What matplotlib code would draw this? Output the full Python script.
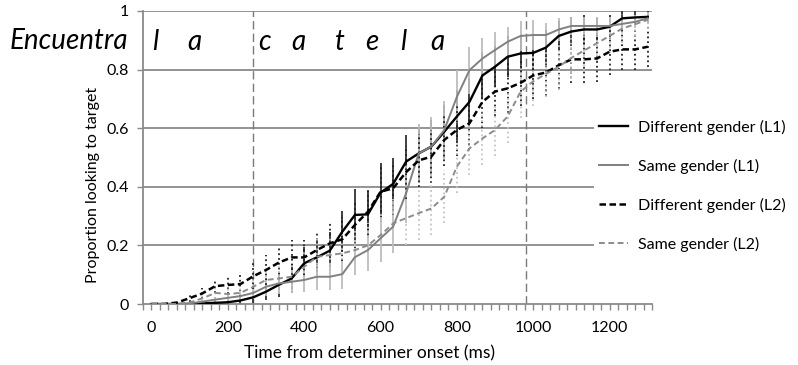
import matplotlib
matplotlib.use("Agg")
import matplotlib.pyplot as plt
from matplotlib.lines import Line2D
from matplotlib.ticker import MultipleLocator, FixedLocator

plt.rcParams['font.family'] = ['Lato', 'DejaVu Sans']

# time from determiner onset (ms), one sample every ~33 ms
times = [0, 33, 67, 100, 133, 167, 200, 233, 267, 300,
         333, 367, 400, 433, 467, 500, 533, 567, 600, 633,
         667, 700, 733, 767, 800, 833, 867, 900, 933, 967,
         1000, 1033, 1067, 1100, 1133, 1167, 1200, 1233, 1267, 1300]

# proportion looking to target
diff_l1 = [0, 0, 0, 0, 0.002, 0.004, 0.006, 0.012, 0.023, 0.042,
           0.065, 0.087, 0.139, 0.159, 0.182, 0.247, 0.304, 0.306, 0.38, 0.41,
           0.486, 0.514, 0.537, 0.588, 0.64, 0.69, 0.78, 0.81, 0.844, 0.855,
           0.857, 0.875, 0.915, 0.93, 0.937, 0.937, 0.946, 0.975, 0.978, 0.98]
same_l1 = [0, 0, 0, 0.002, 0.008, 0.015, 0.021, 0.027, 0.038, 0.059,
           0.07, 0.076, 0.082, 0.093, 0.093, 0.102, 0.16, 0.184, 0.224, 0.264,
           0.378, 0.514, 0.537, 0.594, 0.707, 0.798, 0.838, 0.867, 0.895, 0.915,
           0.918, 0.918, 0.937, 0.949, 0.949, 0.949, 0.949, 0.956, 0.963, 0.975]
diff_l2 = [0, 0, 0.005, 0.02, 0.036, 0.061, 0.065, 0.068, 0.095, 0.116,
           0.141, 0.159, 0.159, 0.184, 0.207, 0.221, 0.27, 0.315, 0.383, 0.395,
           0.45, 0.49, 0.503, 0.56, 0.594, 0.617, 0.69, 0.725, 0.736, 0.755,
           0.78, 0.79, 0.815, 0.835, 0.835, 0.838, 0.861, 0.869, 0.869, 0.878]
same_l2 = [0, 0, 0, 0.005, 0.019, 0.038, 0.034, 0.038, 0.059, 0.082,
           0.087, 0.093, 0.127, 0.161, 0.167, 0.173, 0.184, 0.2, 0.235, 0.275,
           0.293, 0.31, 0.326, 0.366, 0.469, 0.531, 0.565, 0.594, 0.64, 0.725,
           0.76, 0.785, 0.81, 0.84, 0.865, 0.89, 0.915, 0.94, 0.955, 0.97]

# error bars (+/-)
err_diff_l1 = [0, 0, 0, 0, 0.003, 0.005, 0.008, 0.012, 0.02, 0.03,
               0.04, 0.05, 0.055, 0.06, 0.065, 0.07, 0.09, 0.08, 0.1, 0.09,
               0.09, 0.09, 0.09, 0.09, 0.09, 0.08, 0.08, 0.07, 0.07, 0.06,
               0.06, 0.06, 0.05, 0.05, 0.05, 0.04, 0.04, 0.03, 0.03, 0.02]
err_same_l1 = [0, 0, 0, 0.002, 0.006, 0.01, 0.012, 0.015, 0.02, 0.03,
               0.035, 0.04, 0.04, 0.045, 0.045, 0.05, 0.06, 0.07, 0.08, 0.09,
               0.1, 0.1, 0.1, 0.1, 0.09, 0.08, 0.07, 0.06, 0.05, 0.05,
               0.05, 0.04, 0.04, 0.03, 0.03, 0.03, 0.03, 0.02, 0.02, 0.02]
err_diff_l2 = [0, 0, 0.004, 0.012, 0.02, 0.025, 0.03, 0.04, 0.045, 0.05,
               0.055, 0.06, 0.06, 0.065, 0.07, 0.075, 0.08, 0.08, 0.085, 0.09,
               0.09, 0.09, 0.09, 0.09, 0.09, 0.09, 0.09, 0.085, 0.085, 0.08,
               0.08, 0.08, 0.08, 0.08, 0.08, 0.08, 0.08, 0.07, 0.07, 0.07]
err_same_l2 = [0, 0, 0, 0.004, 0.012, 0.02, 0.02, 0.025, 0.03, 0.04,
               0.045, 0.05, 0.055, 0.06, 0.065, 0.07, 0.07, 0.075, 0.08, 0.085,
               0.09, 0.09, 0.09, 0.09, 0.09, 0.09, 0.09, 0.09, 0.09, 0.09,
               0.085, 0.08, 0.08, 0.07, 0.07, 0.06, 0.06, 0.05, 0.04, 0.03]

labels = ["Different gender (L1)", "Same gender (L1)",
          "Different gender (L2)", "Same gender (L2)"]
x_labels = [0, 200, 400, 600, 800, 1000, 1200]
y_labels = ["0", "0.2", "0.4", "0.6", "0.8", "1"]
word_onsets = [267, 982]   # dashed markers: "la" / "catela"
sentence = "Encuentra"
letters = ["l", "a", "c", "a", "t", "e", "l", "a"]
letter_pos = [9, 113, 296, 386, 493, 578, 660, 749]

fig = plt.figure(figsize=(7.98, 3.65), dpi=100)
ax = fig.add_axes([143 / 798, 61 / 365, 509 / 798, 293 / 365])

grid_col = "#8a8a8a"
for v in [0.2, 0.4, 0.6, 0.8, 1.0]:
    ax.axhline(v, color=grid_col, lw=1.3, zorder=1)
for xv in word_onsets:
    ax.axvline(xv, color="#7a7a7a", lw=1.0, ls=(0, (6, 3)), zorder=1)

# series: (values, errors, line color, line style, lw, bar color, bar style)
series = [
    (diff_l1, err_diff_l1, "black", "-", 1.7, "#303030", "-"),
    (same_l1, err_same_l1, "#808080", "-", 1.4, "#bdbdbd", "-"),
    (diff_l2, err_diff_l2, "black", (0, (2.6, 1.4)), 1.8, "#202020", ":"),
    (same_l2, err_same_l2, "#8c8c8c", (0, (3.0, 1.8)), 1.4, "#c4c4c4", ":"),
]

handles = []
for k, (vals, errs, col, ls, lw, bcol, bls) in enumerate(series):
    eb = ax.errorbar(times, vals, yerr=errs, fmt="none", ecolor=bcol,
                     elinewidth=1.3, capsize=0, zorder=2)
    eb[2][0].set_linestyle(bls)
    ax.plot(times, vals, color=col, ls=ls, lw=lw, zorder=3 + k)
    handles.append(Line2D([], [], color=col, ls=ls, lw=lw))

ax.set_xlim(-200 / 9, 59 * 200 / 9)
ax.set_ylim(0, 1)
ax.xaxis.set_major_locator(FixedLocator(x_labels))
ax.set_xticklabels([str(v) for v in x_labels])
ax.xaxis.set_minor_locator(MultipleLocator(200 / 9))
ax.set_yticks([0, 0.2, 0.4, 0.6, 0.8, 1.0])
ax.set_yticklabels(y_labels)

for s in ["top", "right"]:
    ax.spines[s].set_visible(False)
for s in ["left", "bottom"]:
    ax.spines[s].set_color(grid_col)
    ax.spines[s].set_linewidth(1.3)
ax.tick_params(axis="both", which="both", color=grid_col, width=1.0,
               labelsize=11.5, labelcolor="black")
ax.tick_params(axis="x", which="both", length=4, pad=8)
ax.tick_params(axis="y", which="both", length=4, pad=6)

fig.text(370 / 798, 12 / 365, "Time from determiner onset (ms)",
         ha="center", va="center", fontsize=12.5)
fig.text(93 / 798, 1 - 185 / 365, "Proportion looking to target",
         ha="center", va="center", rotation=90, fontsize=11.5)

fig.text(10 / 798, 1 - 49 / 365, sentence, ha="left", va="baseline",
         fontsize=20, style="italic")
for ch, xp in zip(letters, letter_pos):
    ax.text(xp, 0.867, ch, ha="center", va="baseline", fontsize=20,
            style="italic", clip_on=False)

leg = ax.legend(handles, labels, loc="center left",
                bbox_to_anchor=(594 / 798, 1 - 186 / 365),
                bbox_transform=fig.transFigure, frameon=True,
                fontsize=11.5, handlelength=1.85, handletextpad=0.6,
                labelspacing=1.5, borderpad=0.3, borderaxespad=0)
leg.get_frame().set_facecolor("white")
leg.get_frame().set_edgecolor("none")
leg.get_frame().set_alpha(1)
leg.get_frame().set_boxstyle("square", pad=0)
leg.set_zorder(10)

fig.savefig("out.png", dpi=100, facecolor="white")
